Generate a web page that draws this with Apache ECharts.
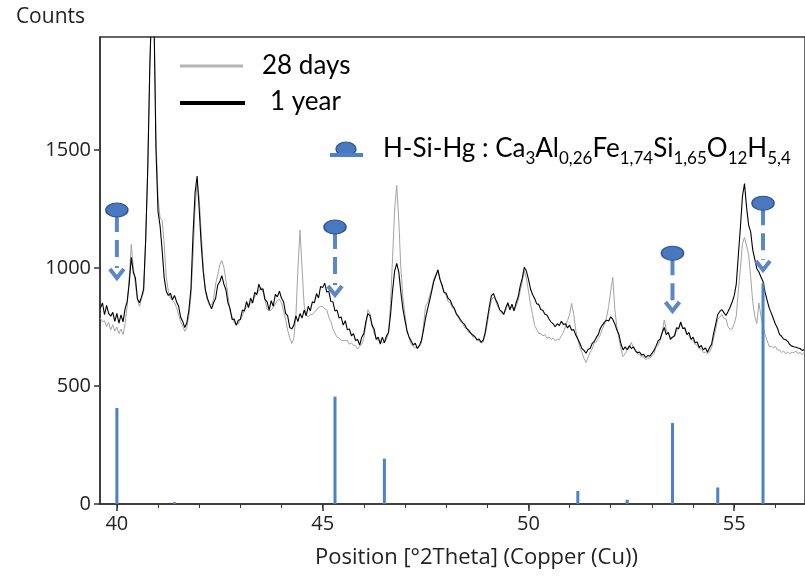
<!DOCTYPE html>
<html><head><meta charset="utf-8">
<script src="https://cdn.jsdelivr.net/npm/echarts@6/dist/echarts.min.js"></script>
<style>html,body{margin:0;padding:0;background:#fff}#c{width:805px;height:577px}</style>
</head><body><div id="c"></div>
<script>
// Scan grid of the diffractogram (°2Theta)
const scanStart = 39.6;
const scanStep = 0.05;

// 28 days (grey) counts, one row per degree
const days28 = [
  788,772,777,752,770,738,760,732,
  750,722,741,718,765,838,962,1100,1003,932,863,837,873,897,1120,1420,1850,2150,2100,1560,
  1300,1213,1202,1097,963,902,873,862,853,832,803,772,753,732,748,797,883,1050,1250,1360,
  1300,1147,1003,902,863,842,843,867,933,972,1013,1032,1003,947,883,817,793,767,763,762,
  783,797,823,832,848,847,863,877,893,902,918,897,863,827,818,822,833,847,863,867,
  853,817,783,737,703,680,703,797,1000,1160,1000,843,802,792,803,802,813,822,833,837,
  838,827,823,792,773,742,723,707,703,692,693,692,693,677,683,672,673,657,668,677,
  703,757,823,807,763,722,703,692,693,682,685,697,723,850,1050,1250,1350,1200,1000,877,
  803,737,703,677,668,662,663,667,683,757,838,852,883,912,953,972,993,957,923,897,
  883,857,853,832,823,802,793,772,768,747,743,727,723,707,708,692,693,682,685,717,
  763,817,863,877,863,837,823,807,803,822,848,832,833,822,838,862,903,942,988,957,
  903,847,803,757,740,722,723,712,718,702,708,697,703,692,698,697,713,727,753,777,
  803,850,803,737,698,662,643,617,600,622,643,657,683,687,703,717,743,762,793,837,
  903,960,823,747,703,657,625,637,653,662,685,662,653,637,633,622,623,612,618,617,
  628,637,663,672,693,727,780,737,723,707,703,712,733,742,763,747,743,722,713,697,
  693,677,673,657,658,642,643,637,643,662,703,742,783,792,803,787,783,752,740,742,
  763,797,903,997,1103,1130,1093,1057,963,857,795,765,852,797,753,717,693,667,668,662,
  668,652,653,642,648,637,643,637,643,642,648,637,643,632,643
];

// 1 year (black) counts
const year1 = [
  830,852,802,842,808,796,812,774,
  808,766,801,772,828,858,935,1045,982,958,870,853,878,912,1120,1420,1850,2150,2080,1500,
  1240,1178,1076,958,902,884,893,866,884,857,838,791,773,748,768,822,912,1140,1320,1390,
  1250,1098,982,908,872,848,827,853,872,928,942,968,932,908,852,828,782,784,757,779,
  782,822,818,858,832,872,852,897,887,932,908,912,867,857,822,862,838,888,878,902,
  872,857,808,797,748,742,758,797,773,807,788,822,798,838,818,857,853,892,873,922,
  917,936,898,902,858,857,818,822,788,792,758,777,738,742,713,722,693,697,673,707,
  722,773,807,798,757,742,698,707,678,707,683,712,727,803,907,988,1020,983,898,827,
  778,732,708,691,674,681,659,671,693,737,788,827,863,902,943,967,992,952,928,897,
  893,871,864,841,829,806,794,781,769,761,744,736,724,716,709,696,699,686,694,727,
  783,837,883,892,868,851,824,816,804,831,853,823,847,818,852,877,923,957,1003,987,
  953,912,888,871,849,846,824,821,804,801,784,771,764,751,764,756,774,761,764,746,
  758,736,739,716,699,681,659,651,639,656,659,681,689,706,719,746,759,771,779,776,
  793,782,763,737,718,677,653,666,654,671,659,666,649,641,644,631,634,621,629,626,
  638,651,669,691,699,726,748,718,727,698,707,713,747,743,772,743,747,718,727,698,
  707,683,687,663,672,653,662,643,662,677,723,762,803,816,824,811,799,816,834,856,
  883,932,1053,1172,1303,1358,1258,1182,1153,1077,1038,997,983,962,943,897,863,831,809,786,
  763,746,719,711,699,696,689,676,669,666,664,661,659,651,654
];

// Reference pattern H-Si-Hg (stick positions and intensities)
const stickPos = [40.0, 41.4, 45.3, 46.5, 51.2, 52.4, 53.5, 54.6, 55.7];
const stickHeight = [407, 8, 455, 192, 55, 18, 343, 70, 935];

// Marker arrows: position, ellipse level, arrow tip level
const markerPos = [40.0, 45.3, 53.5, 55.7];
const markerTop = [1246, 1174, 1063, 1275];
const markerTip = [949, 877, 809, 983];

// Ticks
const xTickLabels = [40, 45, 50, 55];
const xMinorTicks = [40, 41, 42, 43, 44, 45, 46, 47, 48, 49, 50, 51, 52, 53, 54, 55, 56];
const yTickLabels = [0, 500, 1000, 1500];

// Legend texts
const legendNames = ['28 days', '1 year'];

const AX_FONT = "'Open Sans', 'Noto Sans', sans-serif";
const LG_FONT = "Lato, 'Open Sans', sans-serif";
const AXIS_COLOR = '#333';
const BLUE = '#4f81c7';
const BLUE_LINE = '#5b87c6';
const GREY = '#a3a3a3';

const toXY = arr => arr.map((v, i) => [+(scanStart + i * scanStep).toFixed(2), v]);

const chart = echarts.init(document.getElementById('c'), null, {renderer: 'canvas'});

const option = {
  animation: false,
  backgroundColor: '#fff',
  grid: {left: 100, top: 37, right: -3, bottom: 73, show: true, borderColor: AXIS_COLOR, borderWidth: 1.5, containLabel: false},
  xAxis: [{
    type: 'value', min: 39.59, max: 56.72, position: 'bottom',
    axisLine: {show: true, onZero: false, lineStyle: {color: AXIS_COLOR, width: 1.5}},
    axisTick: {show: true, customValues: xTickLabels, length: 7, lineStyle: {color: AXIS_COLOR, width: 1.5}},
    axisLabel: {customValues: xTickLabels, fontSize: 20, color: '#222', margin: 10, fontFamily: AX_FONT,
                formatter: v => String(v)},
    splitLine: {show: false},
    name: 'Position [°2Theta] (Copper (Cu))', nameLocation: 'middle', nameGap: 43,
    nameTextStyle: {fontSize: 22, color: '#222', fontFamily: AX_FONT, padding: [0, 0, 0, 48]}
  }, {
    type: 'value', min: 39.59, max: 56.72, position: 'bottom',
    axisLine: {show: false},
    axisTick: {show: true, customValues: xMinorTicks, length: 4, lineStyle: {color: AXIS_COLOR, width: 1}},
    axisLabel: {show: false}, splitLine: {show: false}
  }],
  yAxis: {
    type: 'value', min: 0, max: 1979,
    axisLine: {show: true, lineStyle: {color: AXIS_COLOR, width: 1.5}},
    axisTick: {show: true, customValues: yTickLabels, length: 6, lineStyle: {color: AXIS_COLOR, width: 1.5}},
    axisLabel: {customValues: yTickLabels, fontSize: 20, color: '#222', margin: 9, fontFamily: AX_FONT,
                formatter: v => String(v)},
    splitLine: {show: false},
    name: 'Counts', nameLocation: 'end', nameGap: 9,
    nameTextStyle: {fontSize: 21, color: '#222', fontFamily: AX_FONT, align: 'right', padding: [0, 15, 0, 0]}
  },
  series: [
    {type: 'line', name: legendNames[0], data: toXY(days28), showSymbol: false, symbol: 'none',
     lineStyle: {color: GREY, width: 1}, itemStyle: {color: GREY}, z: 2, clip: true},
    {type: 'line', name: legendNames[1], data: toXY(year1), showSymbol: false, symbol: 'none',
     lineStyle: {color: '#000', width: 1.1}, itemStyle: {color: '#000'}, z: 3, clip: true},
    {type: 'bar', name: 'H-Si-Hg', data: stickPos.map((p, i) => [p, stickHeight[i]]), barWidth: 3,
     itemStyle: {color: BLUE}, z: 4},
    {type: 'custom', name: 'markers', z: 5,
     data: markerPos.map((p, i) => [p, markerTop[i], markerTip[i]]),
     renderItem: (params, api) => {
       const top = api.coord([api.value(0), api.value(1)]);
       const tip = api.coord([api.value(0), api.value(2)]);
       const cx = top[0], cy = top[1], ty = tip[1];
       return {type: 'group', children: [
         {type: 'line', shape: {x1: cx, y1: cy + 6, x2: cx, y2: ty - 12},
          style: {stroke: BLUE_LINE, lineWidth: 4, lineDash: [16, 8, 17, 9]}},
         {type: 'polyline', shape: {points: [[cx - 7, ty - 11], [cx, ty - 2], [cx + 7, ty - 11]]},
          style: {stroke: BLUE_LINE, lineWidth: 4, fill: null}},
         {type: 'circle', x: cx, y: cy, scaleX: 11 / 7, scaleY: 1, shape: {cx: 0, cy: 0, r: 7},
          style: {fill: '#4a78be', stroke: '#2f5597', lineWidth: 1, strokeNoScale: true}}
       ]};
     }}
  ],
  graphic: [
    // legend: 28 days / 1 year
    {type: 'line', shape: {x1: 180, y1: 66, x2: 243, y2: 66}, style: {stroke: '#b4b4b4', lineWidth: 3}},
    {type: 'text', x: 262, y: 66, style: {text: legendNames[0], fontSize: 26, fontFamily: LG_FONT, fill: '#000', verticalAlign: 'middle'}},
    {type: 'line', shape: {x1: 180, y1: 103, x2: 245, y2: 103}, style: {stroke: '#000', lineWidth: 4}},
    {type: 'text', x: 270, y: 102, style: {text: legendNames[1], fontSize: 26, fontFamily: LG_FONT, fill: '#000', verticalAlign: 'middle'}},
    // legend: reference pattern
    {type: 'circle', x: 346, y: 149, scaleX: 10 / 7, shape: {cx: 0, cy: 0, r: 7}, style: {fill: '#4a78be', stroke: '#2f5597', lineWidth: 1}},
    {type: 'rect', shape: {x: 330, y: 153, width: 33, height: 4}, style: {fill: BLUE}},
    {type: 'text', x: 383, y: 150, style: {
      text: '{n|H-Si-Hg : Ca}{s|3}{n|Al}{s|0,26}{n|Fe}{s|1,74}{n|Si}{s|1,65}{n|O}{s|12}{n|H}{s|5,4}',
      verticalAlign: 'middle', fill: '#000',
      rich: {
        n: {fontSize: 26, fontFamily: LG_FONT, fill: '#000', lineHeight: 28, verticalAlign: 'top'},
        s: {fontSize: 17, fontFamily: LG_FONT, fill: '#000', lineHeight: 18, verticalAlign: 'top', padding: [14, 0, 0, 0]}
      }
    }}
  ]
};
chart.setOption(option);
</script>
</body></html>
